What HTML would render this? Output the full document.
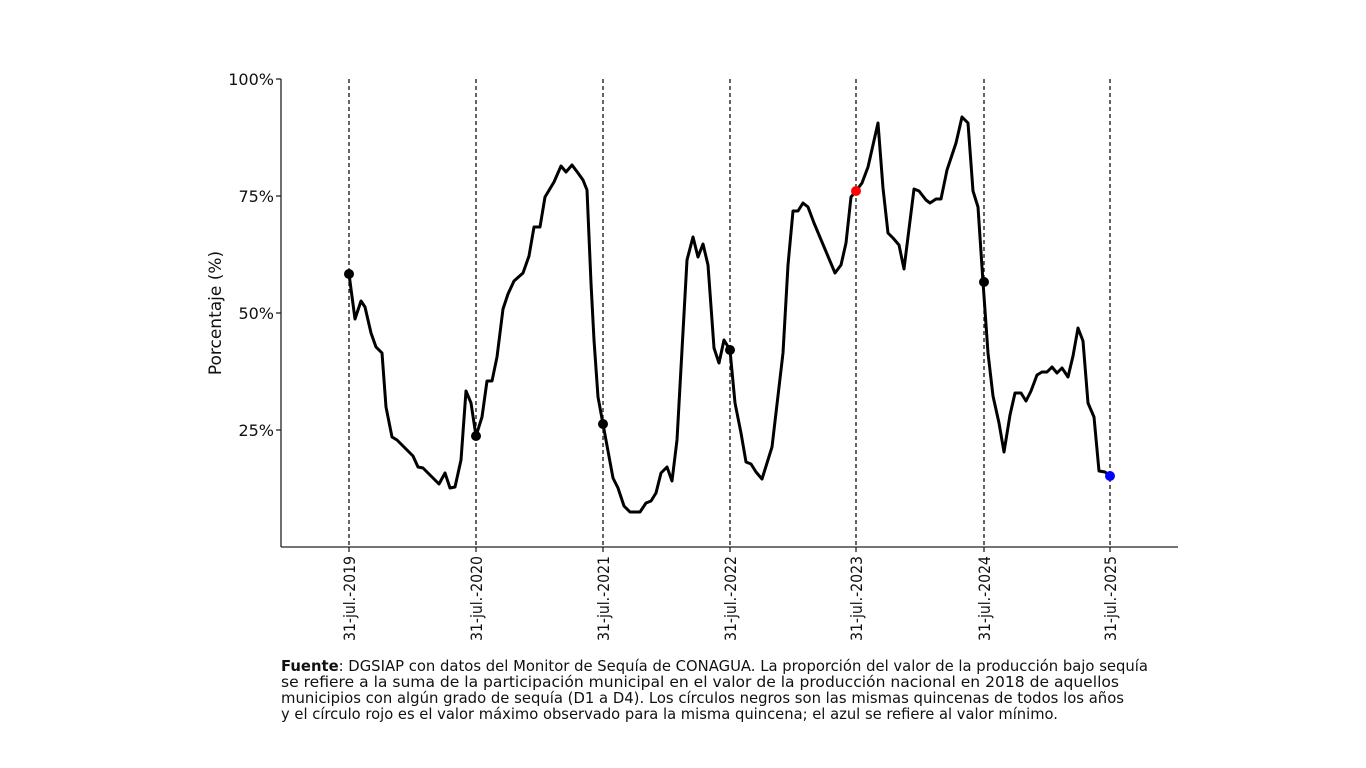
<!DOCTYPE html>
<html><head><meta charset="utf-8"><style>
html,body{margin:0;padding:0;background:#fff;}
svg{display:block;font-family:"DejaVu Sans","Liberation Sans",sans-serif;}
</style></head><body>
<svg width="1366" height="768" viewBox="0 0 1366 768" xmlns="http://www.w3.org/2000/svg">
<rect width="1366" height="768" fill="#fff"/>
<g stroke="#111" stroke-width="1.3" stroke-dasharray="4,3">
<line x1="349" y1="79" x2="349" y2="547"/>
<line x1="476" y1="79" x2="476" y2="547"/>
<line x1="603" y1="79" x2="603" y2="547"/>
<line x1="730" y1="79" x2="730" y2="547"/>
<line x1="856" y1="79" x2="856" y2="547"/>
<line x1="984" y1="79" x2="984" y2="547"/>
<line x1="1110" y1="79" x2="1110" y2="547"/>
</g>
<g stroke="#222" stroke-width="1.3" fill="none">
<line x1="281" y1="79" x2="281" y2="547"/>
<line x1="281" y1="547" x2="1178" y2="547"/>
<line x1="276" y1="79" x2="281" y2="79"/>
<line x1="276" y1="196" x2="281" y2="196"/>
<line x1="276" y1="313" x2="281" y2="313"/>
<line x1="276" y1="430" x2="281" y2="430"/>
<line x1="349" y1="547" x2="349" y2="552"/>
<line x1="476" y1="547" x2="476" y2="552"/>
<line x1="603" y1="547" x2="603" y2="552"/>
<line x1="730" y1="547" x2="730" y2="552"/>
<line x1="856" y1="547" x2="856" y2="552"/>
<line x1="984" y1="547" x2="984" y2="552"/>
<line x1="1110" y1="547" x2="1110" y2="552"/>
</g>
<polyline fill="none" stroke="#000" stroke-width="3" stroke-linejoin="round" points="349,274 355,319 361,301 365,307 371,333 376,347 382,353 386,407 392,437 397,440 405,448 413,456 418,467 423,468 433,478 439,484 445,473 450,488 455,487 461,460 466,391 471,403 476,436 482,417 487,381 492,381 497,357 503,309 508,294 514,281 523,273 529,256 534,227 540,227 545,197 554,182 561,166 566,172 572,165 578,173 583,180 587,190 591,283 594,340 598,397 603,424 613,478 618,488 624,506 630,512 640,512 646,503 651,501 656,493 661,473 667,467 672,481 677,440 687,260 693,237 698,257 703,244 708,265 714,348 719,363 724,340 730,350 735,403 741,433 746,462 751,464 756,472 762,479 772,447 783,353 788,265 793,211 798,211 803,203 808,207 814,223 835,273 841,265 846,243 851,197 856,191 862,183 868,167 878,123 883,188 888,233 893,238 899,245 904,269 914,189 919,191 926,200 930,203 936,199 941,199 947,170 956,143 962,117 968,123 973,191 978,207 983,282 988,353 993,396 999,423 1004,452 1010,415 1015,393 1021,393 1026,401 1031,391 1037,375 1042,372 1047,372 1052,367 1057,373 1062,368 1068,377 1073,356 1078,328 1083,341 1088,403 1094,417 1099,471 1105,472 1110,476"/>
<g fill="#000">
<circle cx="349" cy="274" r="5"/>
<circle cx="476" cy="436" r="5"/>
<circle cx="603" cy="424" r="5"/>
<circle cx="730" cy="350" r="5"/>
<circle cx="984" cy="282" r="5"/>
</g>
<circle cx="856" cy="191" r="5" fill="#ff0000"/>
<circle cx="1110" cy="476" r="5" fill="#0000ff"/>
<g font-size="16" fill="#111" text-anchor="end">
<text x="274" y="85">100%</text>
<text x="274" y="202">75%</text>
<text x="274" y="319">50%</text>
<text x="274" y="436">25%</text>
</g>
<text transform="translate(221,313) rotate(-90)" text-anchor="middle" font-size="17" fill="#111">Porcentaje (%)</text>
<g font-size="16" fill="#111" text-anchor="end">
<text transform="translate(355,556) rotate(-90)" textLength="85" lengthAdjust="spacingAndGlyphs">31-jul.-2019</text>
<text transform="translate(482,556) rotate(-90)" textLength="85" lengthAdjust="spacingAndGlyphs">31-jul.-2020</text>
<text transform="translate(609,556) rotate(-90)" textLength="85" lengthAdjust="spacingAndGlyphs">31-jul.-2021</text>
<text transform="translate(736,556) rotate(-90)" textLength="85" lengthAdjust="spacingAndGlyphs">31-jul.-2022</text>
<text transform="translate(862,556) rotate(-90)" textLength="85" lengthAdjust="spacingAndGlyphs">31-jul.-2023</text>
<text transform="translate(990,556) rotate(-90)" textLength="85" lengthAdjust="spacingAndGlyphs">31-jul.-2024</text>
<text transform="translate(1116,556) rotate(-90)" textLength="85" lengthAdjust="spacingAndGlyphs">31-jul.-2025</text>
</g>
<g font-size="15" fill="#111">
<text x="281" y="671" textLength="867" lengthAdjust="spacingAndGlyphs"><tspan font-weight="bold">Fuente</tspan>: DGSIAP con datos del Monitor de Sequía de CONAGUA. La proporción del valor de la producción bajo sequía</text>
<text x="281" y="687" textLength="838" lengthAdjust="spacingAndGlyphs">se refiere a la suma de la participación municipal en el valor de la producción nacional en 2018 de aquellos</text>
<text x="281" y="703" textLength="843" lengthAdjust="spacingAndGlyphs">municipios con algún grado de sequía (D1 a D4). Los círculos negros son las mismas quincenas de todos los años</text>
<text x="281" y="719" textLength="777" lengthAdjust="spacingAndGlyphs">y el círculo rojo es el valor máximo observado para la misma quincena; el azul se refiere al valor mínimo.</text>
</g>
</svg>
</body></html>
